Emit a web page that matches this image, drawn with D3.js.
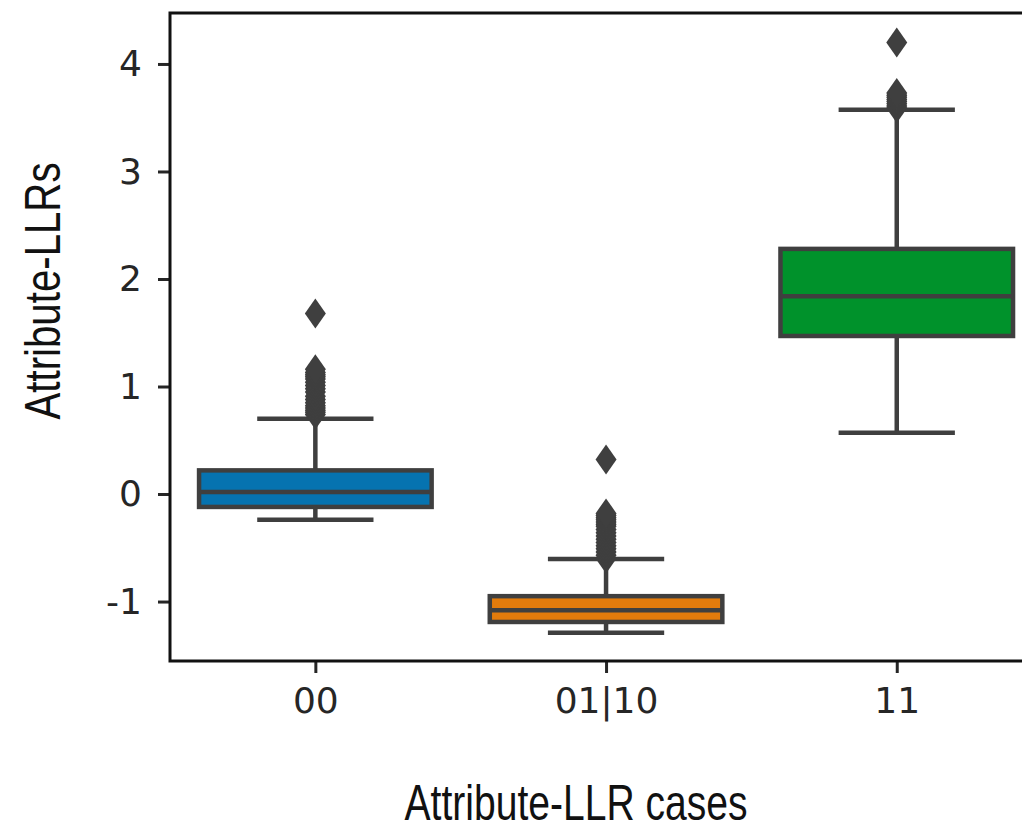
<!DOCTYPE html>
<html>
<head>
<meta charset="utf-8">
<script src="https://cdn.jsdelivr.net/npm/d3@7"></script>
<style>
  body { margin: 0; background: #fff; }
  svg { display: block; }
</style>
</head>
<body>
<div id="chart"></div>
<script>
// Categories and box statistics
var categories = ["00", "01|10", "11"];
var boxColors = ["#0673b0", "#e27b0c", "#00922b"];
var q1 = [-0.12, -1.19, 1.47];
var medians = [0.02, -1.08, 1.84];
var q3 = [0.22, -0.95, 2.28];
var whiskerLow = [-0.24, -1.29, 0.57];
var whiskerHigh = [0.70, -0.605, 3.575];
var outliers = [
    [0.74, 0.76, 0.78, 0.80, 0.82, 0.85, 0.88, 0.91, 0.95, 0.98, 1.01, 1.04, 1.07, 1.09, 1.11, 1.13, 1.16, 1.68],
    [-0.60, -0.57, -0.54, -0.51, -0.48, -0.45, -0.42, -0.39, -0.36, -0.33, -0.30, -0.28, -0.26, -0.24, -0.22, -0.20, -0.18, 0.32],
    [3.59, 3.61, 3.63, 3.65, 3.67, 3.69, 3.71, 3.73, 4.20]
];
var yTicks = [-1, 0, 1, 2, 3, 4];

// Sizing
var W = 1022, H = 826;
var plotLeft = 170, plotTop = 13, plotBottom = 661;
var unit = 290.7;

var svg = d3.select("#chart")
    .append("svg")
    .attr("width", W)
    .attr("height", H);

var x = d3.scaleLinear()
    .domain([-0.5, 2.5])
    .range([plotLeft, plotLeft + 3 * unit]);

var y = d3.scaleLinear()
    .domain([-1.553, 4.474])
    .range([plotBottom, plotTop]);

var lineColor = "#3f3f3f";
var boxW = 0.8 * unit;

// Boxes
var g = svg.append("g");
categories.forEach(function(c, i) {
    var cx = x(i);

    // whiskers
    g.append("line")
        .attr("x1", cx).attr("x2", cx)
        .attr("y1", y(q3[i])).attr("y2", y(whiskerHigh[i]))
        .attr("stroke", lineColor).attr("stroke-width", 4.5);
    g.append("line")
        .attr("x1", cx).attr("x2", cx)
        .attr("y1", y(q1[i])).attr("y2", y(whiskerLow[i]))
        .attr("stroke", lineColor).attr("stroke-width", 4.5);

    // caps
    [whiskerLow[i], whiskerHigh[i]].forEach(function(v) {
        g.append("line")
            .attr("x1", cx - boxW / 4).attr("x2", cx + boxW / 4)
            .attr("y1", y(v)).attr("y2", y(v))
            .attr("stroke", lineColor).attr("stroke-width", 4.5);
    });

    // box
    g.append("rect")
        .attr("x", cx - boxW / 2)
        .attr("y", y(q3[i]))
        .attr("width", boxW)
        .attr("height", y(q1[i]) - y(q3[i]))
        .attr("fill", boxColors[i])
        .attr("stroke", lineColor)
        .attr("stroke-width", 4.5);

    // median
    g.append("line")
        .attr("x1", cx - boxW / 2).attr("x2", cx + boxW / 2)
        .attr("y1", y(medians[i])).attr("y2", y(medians[i]))
        .attr("stroke", lineColor).attr("stroke-width", 4.5);

    // fliers (thin diamonds)
    g.selectAll(".flier" + i)
        .data(outliers[i])
        .enter()
        .append("path")
        .attr("d", function(d) {
            var py = y(d);
            return "M" + cx + "," + (py - 15) + "L" + (cx + 10.5) + "," + py +
                "L" + cx + "," + (py + 15) + "L" + (cx - 10.5) + "," + py + "Z";
        })
        .attr("fill", lineColor);
});

// Axes
var yAxis = svg.append("g")
    .attr("transform", "translate(" + plotLeft + ",0)")
    .call(d3.axisLeft(y).tickValues(yTicks).tickSize(12).tickPadding(16)
        .tickFormat(function(d) { return String(d); }));

var xAxis = svg.append("g")
    .attr("transform", "translate(0," + plotBottom + ")")
    .call(d3.axisBottom(x).tickValues([0, 1, 2]).tickSize(12).tickPadding(14)
        .tickFormat(function(d) { return categories[d]; }));

[yAxis, xAxis].forEach(function(a) {
    a.select(".domain").remove();
    a.selectAll(".tick line").attr("stroke", "#262626").attr("stroke-width", 3);
    a.selectAll(".tick text")
        .attr("fill", "#262626")
        .style("font-family", "DejaVu Sans")
        .style("font-size", "36px");
});

// Spines (right spine falls outside the cropped picture)
svg.append("path")
    .attr("fill", "none")
    .attr("stroke", "#111")
    .attr("stroke-width", 3)
    .attr("d", "M" + x(2.5) + "," + plotTop + "L" + plotLeft + "," + plotTop +
        "L" + plotLeft + "," + plotBottom + "L" + x(2.5) + "," + plotBottom + "Z");

// Axis labels
svg.append("text")
    .attr("x", 576)
    .attr("y", 820)
    .attr("text-anchor", "middle")
    .attr("textLength", 343)
    .attr("lengthAdjust", "spacingAndGlyphs")
    .style("font-family", "Liberation Sans, Open Sans, sans-serif")
    .style("font-size", "50px")
    .attr("fill", "#111")
    .text("Attribute-LLR cases");

svg.append("text")
    .attr("transform", "translate(60,291) rotate(-90)")
    .attr("text-anchor", "middle")
    .attr("textLength", 257)
    .attr("lengthAdjust", "spacingAndGlyphs")
    .style("font-family", "Liberation Sans, Open Sans, sans-serif")
    .style("font-size", "50px")
    .attr("fill", "#111")
    .text("Attribute-LLRs");
</script>
</body>
</html>
